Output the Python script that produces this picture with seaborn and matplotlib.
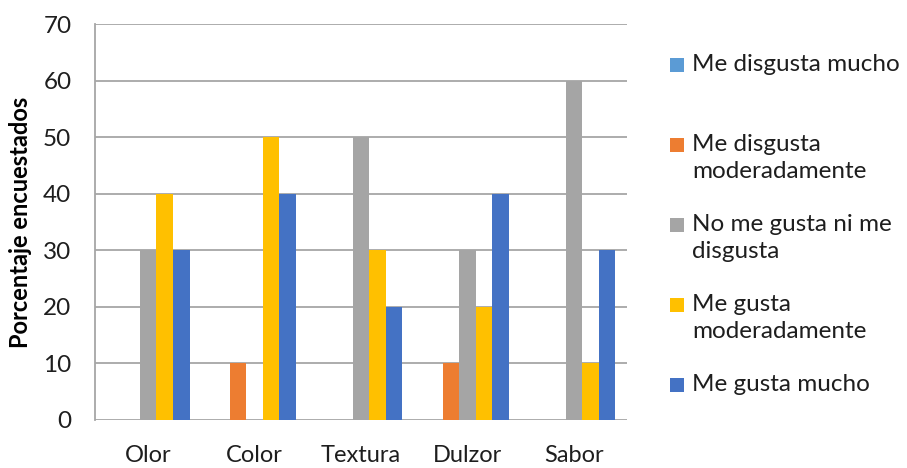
import matplotlib
matplotlib.use("Agg")
import matplotlib.pyplot as plt
from matplotlib.patches import Rectangle
import seaborn as sns
import pandas as pd

# Survey results: share of respondents per rating, by sensory attribute
categories = ["Olor", "Color", "Textura", "Dulzor", "Sabor"]
series_names = [
    "Me disgusta mucho",
    "Me disgusta moderadamente",
    "No me gusta ni me disgusta",
    "Me gusta moderadamente",
    "Me gusta mucho",
]
legend_labels = [
    "Me disgusta mucho",
    "Me disgusta\nmoderadamente",
    "No me gusta ni me\ndisgusta",
    "Me gusta\nmoderadamente",
    "Me gusta mucho",
]
me_disgusta_mucho = [0, 0, 0, 0, 0]
me_disgusta_moderadamente = [0, 10, 0, 10, 0]
ni_gusta_ni_disgusta = [30, 0, 50, 30, 60]
me_gusta_moderadamente = [40, 50, 30, 20, 10]
me_gusta_mucho = [30, 40, 20, 40, 30]
y_ticks = [0, 10, 20, 30, 40, 50, 60, 70]

colors = ["#5B9BD5", "#ED7D31", "#A5A5A5", "#FFC000", "#4472C4"]
grid_color = "#A6A6A6"
text_color = "#1E1E1E"

values = [me_disgusta_mucho, me_disgusta_moderadamente, ni_gusta_ni_disgusta,
          me_gusta_moderadamente, me_gusta_mucho]
rows = []
for name, vals in zip(series_names, values):
    for cat, v in zip(categories, vals):
        rows.append({"Atributo": cat, "Respuesta": name, "Porcentaje": v})
df = pd.DataFrame(rows)

sns.set_theme(style="white")
plt.rcParams["font.family"] = ["Lato", "DejaVu Sans"]

fig = plt.figure(figsize=(9.07, 4.68), dpi=100)
ax = fig.add_axes([95 / 907, 48 / 468, 532 / 907, 396 / 468])

sns.barplot(data=df, x="Atributo", y="Porcentaje", hue="Respuesta",
            hue_order=series_names, order=categories, palette=colors,
            width=0.78, gap=0, saturation=1, linewidth=0, ax=ax, legend=False,
            zorder=3)

ax.set_ylim(0, 70)
ax.set_xlim(-0.5, len(categories) - 0.5)
ax.set_yticks(y_ticks)
ax.set_yticklabels([str(t) for t in y_ticks], fontsize=17.5, color=text_color)
ax.tick_params(axis="y", direction="out", length=7, width=1.3, color=grid_color, pad=10)
ax.tick_params(axis="x", length=0, pad=18, labelsize=17, labelcolor=text_color)
ax.yaxis.grid(True, color=grid_color, linewidth=1.3, zorder=0)
ax.set_axisbelow(True)
for side in ["top", "right", "bottom"]:
    ax.spines[side].set_visible(False)
ax.spines["left"].set_color(grid_color)
ax.spines["left"].set_linewidth(1.3)
ax.set_xlabel("")
ax.set_ylabel("Porcentaje encuestados", fontsize=17, fontweight="bold",
              color="#000000", labelpad=8)

# Legend with each swatch aligned to the first line of its label
legend_top = 65
legend_step = 80
for i, (lab, col) in enumerate(zip(legend_labels, colors)):
    yc = legend_top + i * legend_step
    fig.patches.append(Rectangle((670 / 907, 1 - (yc + 7) / 468), 14 / 907, 14 / 468,
                                 transform=fig.transFigure, facecolor=col,
                                 edgecolor="none"))
    fig.text(692 / 907, 1 - (yc - 11) / 468, lab, fontsize=17.5, color=text_color,
             va="top", ha="left", linespacing=1.33)

fig.savefig("out.png", dpi=100)
